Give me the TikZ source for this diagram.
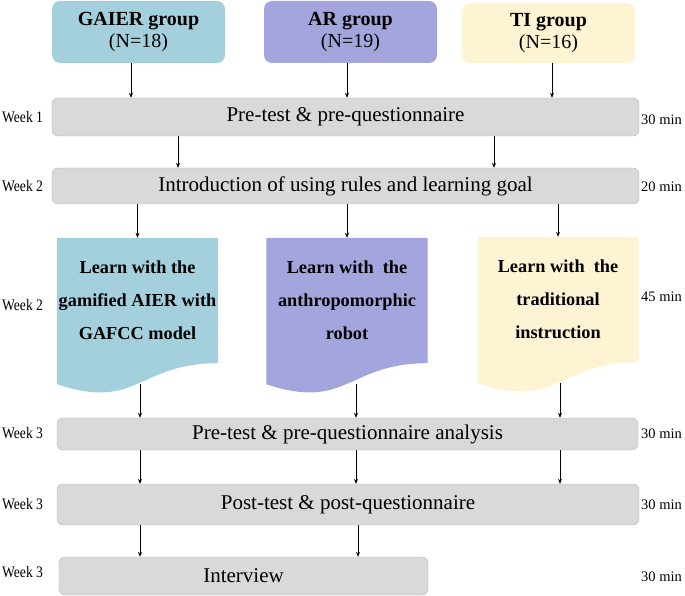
\documentclass[tikz,border=0pt]{standalone}
\usepackage{fontspec}
\setmainfont{Liberation Serif}
\newfontfamily\weekfont[FakeStretch=0.85]{Liberation Serif}
\usepackage{tikz}
\usetikzlibrary{arrows.meta}
\usetikzlibrary{positioning}
\usetikzlibrary{calc,backgrounds}

\definecolor{gaierblue}{HTML}{A4D0DD}
\definecolor{arpurple}{HTML}{A5A5DD}
\definecolor{tiyellow}{HTML}{FEF4D3}
\definecolor{bargray}{HTML}{D9D9D9}
\definecolor{barline}{HTML}{B4B4B4}

\begin{document}
\begin{tikzpicture}[x=1pt,y=-1pt,
	groupbox/.style={rounded corners=8pt,minimum width=173pt,minimum height=62pt,inner sep=0pt,align=center,font=\fontsize{20}{22}\selectfont},
	stagebar/.style={draw=barline,fill=bargray,rounded corners=6pt,inner sep=0pt,font=\fontsize{21}{24}\selectfont},
	docbox/.style={minimum width=161pt,minimum height=125pt,inner sep=0pt,align=center,font=\bfseries\fontsize{18.3}{33}\selectfont},
	weeklabel/.style={anchor=west,inner sep=0pt,font=\weekfont\fontsize{16}{17}\selectfont},
	timelabel/.style={anchor=west,inner sep=0pt,font=\fontsize{14.5}{15}\selectfont},
	flow/.style={-{Stealth[length=5pt,width=4pt]},line width=0.6pt}]
		\useasboundingbox (0,0) rectangle (685,596);
		% groups
		\node[groupbox,fill=gaierblue] (gaier) at (138.5,32) {\textbf{GAIER group}\\(N=18)};
		\node[groupbox,fill=arpurple] (ar) at (350.5,32) {\textbf{AR group}\\(N=19)};
		\node[groupbox,fill=tiyellow,minimum height=60pt] (ti) at (548.5,33) {\textbf{TI group}\\(N=16)};
		% stages
		\node[stagebar,minimum width=587pt,minimum height=38pt] (pretest) at (345.5,117) {Pre-test \& pre-questionnaire};
		\node[stagebar,minimum width=587pt,minimum height=36pt] (intro) at (345.5,186) {Introduction of using rules and learning goal};
		\node[docbox] (gaierdoc) at (137.5,300.5) {Learn with the\\gamified AIER with\\GAFCC model};
		\node[docbox] (ardoc) at (347,300.5) {Learn with\ \ the\\anthropomorphic\\robot};
		\node[docbox] (tidoc) at (558,299.5) {Learn with\ \ the\\traditional\\instruction};
		\node[stagebar,minimum width=581pt,minimum height=32pt] (analysis) at (347.5,434) {Pre-test \& pre-questionnaire analysis};
		\node[stagebar,minimum width=582pt,minimum height=41pt] (posttest) at (348,504.5) {Post-test \& post-questionnaire};
		\node[stagebar,minimum width=369pt,minimum height=38pt] (interview) at (243.5,576) {Interview};
		\begin{scope}[on background layer]
			\foreach \d/\c in {gaierdoc/gaierblue,ardoc/arpurple,tidoc/tiyellow}
			\fill[\c] (\d.north west) -- (\d.north east) -- (\d.south east)
			.. controls (\d.south) and ($(\d.south)+(0,48)$) .. ($(\d.south west)+(0,21)$) -- cycle;
		\end{scope}
		% week and time labels
		\node[weeklabel] (w1) at (2,117) {Week 1};
		\node[weeklabel] (w2) at (2,186) {Week 2};
		\node[weeklabel] (w2b) at (2,305) {Week 2};
		\node[weeklabel] (w3) at (2,433) {Week 3};
		\node[weeklabel] (w3b) at (2,504) {Week 3};
		\node[weeklabel] (w3c) at (2,572) {Week 3};
		\node[timelabel] (t1) at (641,120) {30 min};
		\node[timelabel] (t2) at (641,187) {20 min};
		\node[timelabel] (t3) at (641,297) {45 min};
		\node[timelabel] (t4) at (641,434) {30 min};
		\node[timelabel] (t5) at (641,505) {30 min};
		\node[timelabel] (t6) at (641,577) {30 min};
		% columns below the documents
		\coordinate (colA) at (140,0);
		\coordinate (colB) at (356,0);
		\coordinate (colC) at (560,0);
		\coordinate (gaierdip) at ($(gaierdoc.south -| colA)+(0,21)$);
		\coordinate (ardip) at ($(ardoc.south -| colB)+(0,21)$);
		\coordinate (tidip) at ($(tidoc.south -| colC)+(0,21)$);
		% arrows
		\draw[flow] ([xshift=-7.5pt]gaier.south) -- ([xshift=-7.5pt]gaier.south |- pretest.north);
		\draw[flow] ([xshift=-3.5pt]ar.south) -- ([xshift=-3.5pt]ar.south |- pretest.north);
		\draw[flow] ([xshift=3.5pt]ti.south) -- ([xshift=3.5pt]ti.south |- pretest.north);
		\draw[flow] ([xshift=-167.5pt]pretest.south) -- ([xshift=-167.5pt]intro.north);
		\draw[flow] ([xshift=148.5pt]pretest.south) -- ([xshift=148.5pt]intro.north);
		\draw[flow] (gaierdoc.north |- intro.south) -- (gaierdoc.north);
		\draw[flow] (ardoc.north |- intro.south) -- (ardoc.north);
		\draw[flow] (tidoc.north |- intro.south) -- (tidoc.north);
		\draw[flow] (gaierdip) -- (analysis.north -| colA);
		\draw[flow] (ardip) -- (analysis.north -| colB);
		\draw[flow] (tidip) -- (analysis.north -| colC);
		\draw[flow] (analysis.south -| colA) -- (posttest.north -| colA);
		\draw[flow] (analysis.south -| colB) -- (posttest.north -| colB);
		\draw[flow] (analysis.south -| colC) -- (posttest.north -| colC);
		\draw[flow] (posttest.south -| colA) -- (interview.north -| colA);
		\draw[flow] ([xshift=2pt]posttest.south -| colB) -- ([xshift=2pt]interview.north -| colB);
\end{tikzpicture}
\end{document}
